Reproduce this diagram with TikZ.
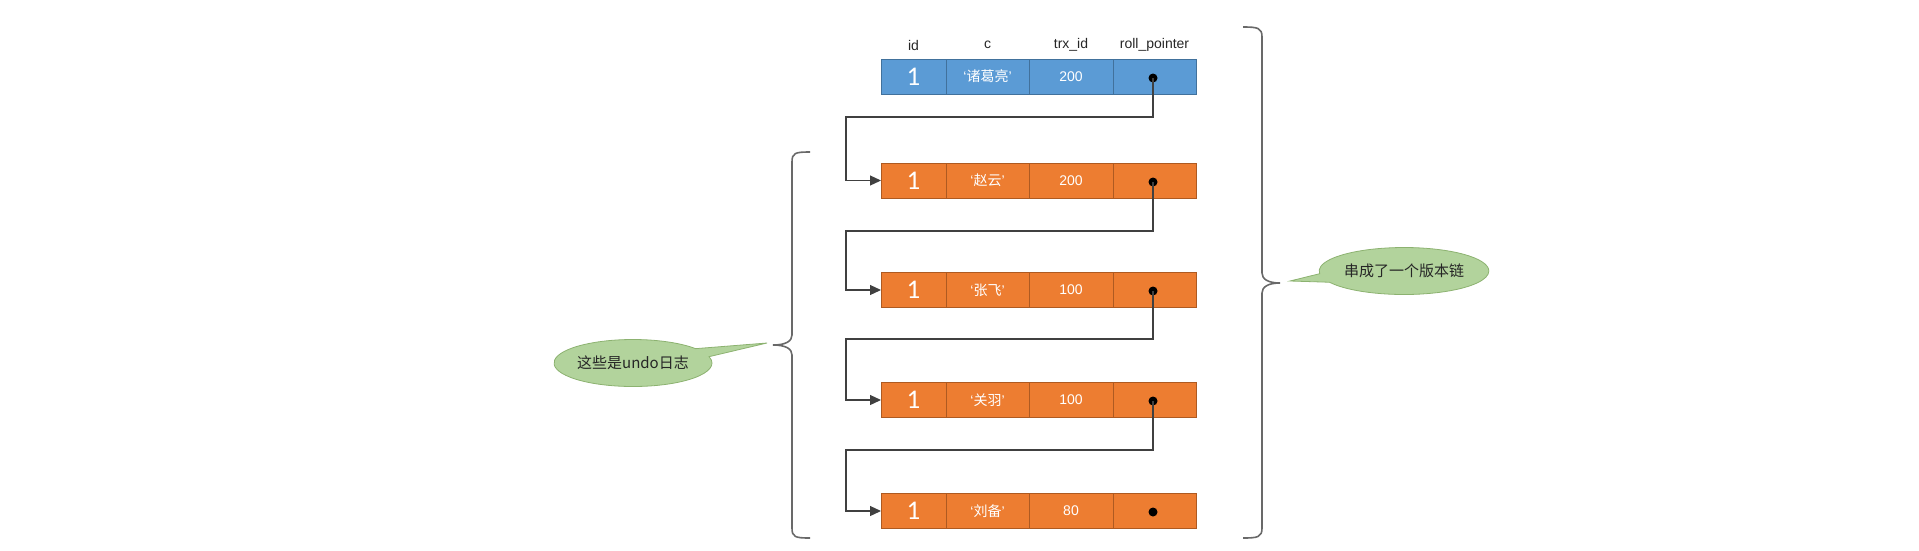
\documentclass[tikz,border=0pt]{standalone}
\usepackage{fontspec}
\setmainfont{Liberation Sans}
\newfontfamily\cjk{Noto Sans CJK SC}
\newfontfamily\numfont{Carlito}
\usepackage{tikz}
\usetikzlibrary{arrows.meta,positioning,shapes.callouts}

\definecolor{rowblue}{RGB}{91,155,213}
\definecolor{rowblueedge}{RGB}{65,113,156}
\definecolor{roworange}{RGB}{237,125,49}
\definecolor{roworangeedge}{RGB}{174,90,33}
\definecolor{notegreen}{RGB}{178,211,156}
\definecolor{notegreenedge}{RGB}{140,178,112}
\definecolor{bracegray}{RGB}{105,105,105}
\definecolor{linegray}{RGB}{64,64,64}

\newcommand{\hero}[1]{`{\cjk #1}'}

\tikzset{
  cell/.style={draw, line width=1pt, minimum height=35pt, inner sep=0pt, outer sep=0pt,
    text=white, font=\fontsize{14}{14}\selectfont},
  idcell/.style={cell, minimum width=65pt, font=\numfont\fontsize{27}{27}\selectfont},
  ccell/.style={cell, minimum width=83pt},
  trxcell/.style={cell, minimum width=84pt},
  ptrcell/.style={cell, minimum width=83pt},
  bluerow/.style={fill=rowblue, draw=rowblueedge},
  orangerow/.style={fill=roworange, draw=roworangeedge},
  pdot/.style={circle, fill=black, inner sep=0pt, minimum size=9pt},
  link/.style={draw=linegray, line width=1.2pt, -{Triangle[length=11pt,width=10pt]}},
  bracket/.style={draw=bracegray, line width=1.6pt},
  note/.style={ellipse callout, fill=notegreen, draw=notegreenedge, line width=0.8pt,
    inner sep=0pt, minimum width=158pt, minimum height=47pt, callout pointer arc=22,
    text=black!85, font=\cjk\fontsize{15}{15}\selectfont}
}

\begin{document}
\begin{tikzpicture}[x=1pt,y=-1pt]
    \useasboundingbox (0,0) rectangle (1919,550);

    % column names over the first row
    \begin{scope}[every node/.style={font=\fontsize{14}{14}\selectfont, text=black!85}]
    \node (hid) at (913.5,45) {id};
    \node (hc) at (987.5,45) {c};
    \node (htrx) at (1071,45) {trx\_id};
    \node (hptr) at (1154.5,45) {roll\_pointer};
    \end{scope}

    % current record (blue), use the tuple for location
    \begin{scope}[every node/.append style={bluerow}]
    \node[idcell] (id0) at (913.5,76.5) {1};
    \node[ccell, right=0pt of id0] (c0) {\hero{诸葛亮}};
    \node[trxcell, right=0pt of c0] (trx0) {200};
    \node[ptrcell, right=0pt of trx0] (ptr0) {};
    \end{scope}

    % old versions (orange), add or remove rows here
    \begin{scope}[every node/.append style={orangerow}]
    \node[idcell] (id1) at (913.5,180.5) {1};
    \node[ccell, right=0pt of id1] (c1) {\hero{赵云}};
    \node[trxcell, right=0pt of c1] (trx1) {200};
    \node[ptrcell, right=0pt of trx1] (ptr1) {};

    \node[idcell] (id2) at (913.5,290) {1};
    \node[ccell, right=0pt of id2] (c2) {\hero{张飞}};
    \node[trxcell, right=0pt of c2] (trx2) {100};
    \node[ptrcell, right=0pt of trx2] (ptr2) {};

    \node[idcell] (id3) at (913.5,400) {1};
    \node[ccell, right=0pt of id3] (c3) {\hero{关羽}};
    \node[trxcell, right=0pt of c3] (trx3) {100};
    \node[ptrcell, right=0pt of trx3] (ptr3) {};

    \node[idcell] (id4) at (913.5,511) {1};
    \node[ccell, right=0pt of id4] (c4) {\hero{刘备}};
    \node[trxcell, right=0pt of c4] (trx4) {80};
    \node[ptrcell, right=0pt of trx4] (ptr4) {};
    \end{scope}

    % the roll_pointer dots
    \node[pdot] (dot0) at (1153,78) {};
    \node[pdot] (dot1) at (1153,182) {};
    \node[pdot] (dot2) at (1153,291) {};
    \node[pdot] (dot3) at (1153,401) {};
    \node[pdot] (dot4) at (1153,512) {};

    % where the pointers turn
    \coordinate (bend1) at (846,117);
    \coordinate (bend2) at (846,231);
    \coordinate (bend3) at (846,339);
    \coordinate (bend4) at (846,450);

    \path[link] (dot0.center) |- (bend1) |- (id1.west);
    \path[link] (dot1.center) |- (bend2) |- (id2.west);
    \path[link] (dot2.center) |- (bend3) |- (id3.west);
    \path[link] (dot3.center) |- (bend4) |- (id4.west);

    % braces, drawn by hand
    \draw[bracket] (810,152) .. controls (795,152) and (792,153) .. (792,162)
      -- (792,335) .. controls (792,341) and (786,345) .. (773,345)
      .. controls (786,345) and (792,349) .. (792,355)
      -- (792,528) .. controls (792,537) and (795,538) .. (810,538);
    \draw[bracket] (1243,27) .. controls (1258,27) and (1262,28) .. (1262,37)
      -- (1262,273) .. controls (1262,279) and (1268,283) .. (1280,283)
      .. controls (1268,283) and (1262,287) .. (1262,293)
      -- (1262,528) .. controls (1262,537) and (1258,538) .. (1243,538);

    % notes
    \node[note, callout absolute pointer={(767,343)}] (undonote) at (633,363) {这些是undo日志};
    \node[note, callout absolute pointer={(1290,281)}] (chainnote) at (1404,271) {串成了一个版本链};

\end{tikzpicture}
\end{document}
